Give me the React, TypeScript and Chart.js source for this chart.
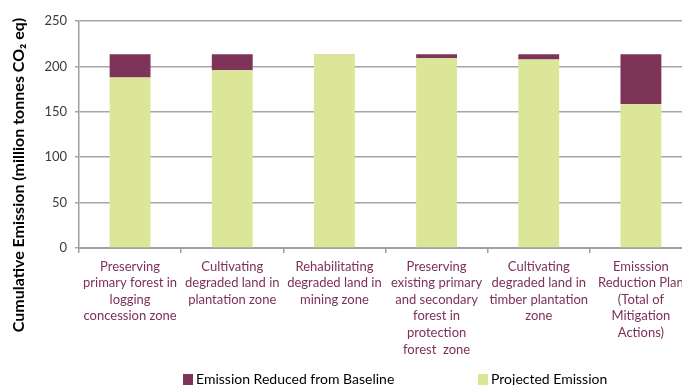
import React, { useEffect, useRef } from "react";
import { Chart, registerables } from "chart.js";

Chart.register(...registerables);

// Mitigation actions along the x axis (each label wraps over several lines)
const categories: string[][] = [
  ["Preserving", "primary forest in", "logging", "concession zone"],
  ["Cultivating", "degraded land in", "plantation zone"],
  ["Rehabilitating", "degraded land in", "mining zone"],
  ["Preserving", "existing primary", "and secondary", "forest in", "protection", "forest  zone"],
  ["Cultivating", "degraded land in", "timber plantation", "zone"],
  ["Emisssion", "Reduction Plan", "(Total of", "Mitigation", "Actions)"],
];

// Cumulative emission, million tonnes CO2 eq
const projectedEmission = [187.7, 195.8, 213.0, 209.0, 207.5, 158.7];
const emissionReduced = [25.7, 17.6, 0.4, 4.4, 5.9, 54.7];

const yTicks = [0, 50, 100, 150, 200, 250];

const seriesNames = ["Emission Reduced from Baseline", "Projected Emission"];
const PURPLE = "#7E3358";
const GREEN = "#DCE699";
const LABEL_PURPLE = "#7D3159";
const FONT = "Lato, 'Open Sans', sans-serif";

const CANVAS_W = 720;
const CANVAS_H = 385;

// Rotated y-axis title and the bottom legend
const extrasPlugin = {
  id: "extras",
  afterDraw(chart: Chart) {
    const ctx = chart.ctx;
    ctx.save();
    // y-axis title
    ctx.translate(19, 175);
    ctx.rotate(-Math.PI / 2);
    ctx.fillStyle = "#000000";
    ctx.font = `bold 16px ${FONT}`;
    ctx.textAlign = "center";
    ctx.textBaseline = "middle";
    ctx.fillText("Cumulative Emission (million tonnes CO\u2082 eq)", 0, 0);
    ctx.restore();

    // legend
    ctx.save();
    ctx.font = `14px ${FONT}`;
    ctx.textBaseline = "alphabetic";
    ctx.textAlign = "left";
    const items = [
      { x: 183, color: PURPLE, text: seriesNames[0] },
      { x: 478, color: GREEN, text: seriesNames[1] },
    ];
    for (const it of items) {
      ctx.fillStyle = it.color;
      ctx.fillRect(it.x, 374, 10, 11);
      ctx.fillStyle = "#000000";
      ctx.fillText(it.text, it.x + 13, 384);
    }
    ctx.restore();
  },
};

export default function App() {
  const canvasRef = useRef<HTMLCanvasElement | null>(null);

  useEffect(() => {
    if (!canvasRef.current) return;
    const chart = new Chart(canvasRef.current, {
      type: "bar",
      data: {
        labels: categories,
        datasets: [
          {
            label: seriesNames[1],
            data: projectedEmission,
            backgroundColor: GREEN,
            barPercentage: 0.4,
            categoryPercentage: 1,
          },
          {
            label: seriesNames[0],
            data: emissionReduced,
            backgroundColor: PURPLE,
            barPercentage: 0.4,
            categoryPercentage: 1,
          },
        ],
      },
      options: {
        animation: false,
        responsive: false,
        maintainAspectRatio: false,
        layout: { padding: { top: 21, right: 28, bottom: 0, left: 0 } },
        plugins: {
          legend: { display: false },
          tooltip: { enabled: false },
        },
        scales: {
          x: {
            stacked: true,
            grid: {
              display: true,
              offset: true,
              drawOnChartArea: false,
              drawTicks: true,
              tickLength: 5,
              color: "#A0A0A0",
              lineWidth: 1.5,
            },
            border: { display: true, color: "#A0A0A0", width: 2 },
            ticks: {
              color: LABEL_PURPLE,
              padding: 5,
              maxRotation: 0,
              autoSkip: false,
              font: { family: FONT, size: 13, lineHeight: 1.28 },
            },
            afterFit(scale: any) {
              scale.height = CANVAS_H - 248;
            },
          },
          y: {
            stacked: true,
            min: 0,
            max: 250,
            afterBuildTicks(scale: any) {
              scale.ticks = yTicks.map((v) => ({ value: v }));
            },
            grid: {
              color: "#A6A6A6",
              lineWidth: 1.5,
              tickLength: 4,
            },
            border: { display: true, color: "#A0A0A0", width: 1.5 },
            ticks: {
              color: "#3A3A3A",
              padding: 8,
              font: { family: FONT, size: 13 },
            },
            afterFit(scale: any) {
              scale.width = 79;
            },
          },
        },
      },
      plugins: [extrasPlugin],
    });
    return () => chart.destroy();
  }, []);

  return (
    <div
      style={{
        position: "fixed",
        left: 0,
        top: 0,
        width: 682,
        height: 385,
        overflow: "hidden",
        background: "#ffffff",
      }}
    >
      <canvas
        ref={canvasRef}
        width={CANVAS_W}
        height={CANVAS_H}
        style={{ display: "block", width: CANVAS_W, height: CANVAS_H }}
      />
    </div>
  );
}
